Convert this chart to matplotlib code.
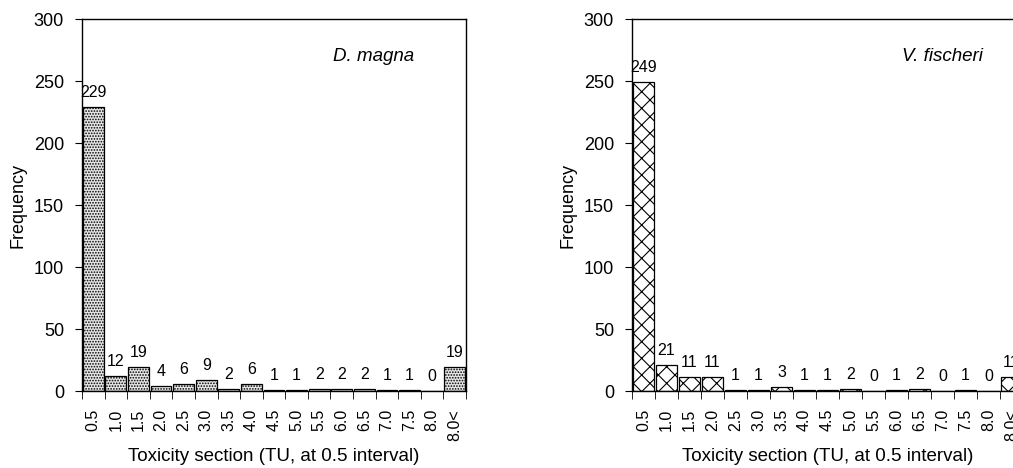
import numpy as np
import matplotlib
matplotlib.use("Agg")
import matplotlib.pyplot as plt

plt.rcParams["font.family"] = ["Liberation Sans", "DejaVu Sans"]
plt.rcParams["hatch.linewidth"] = 0.8

# toxicity sections (TU, 0.5 interval)
sections = ["0.5", "1.0", "1.5", "2.0", "2.5", "3.0", "3.5", "4.0", "4.5",
            "5.0", "5.5", "6.0", "6.5", "7.0", "7.5", "8.0", "8.0<"]
d_magna = [229, 12, 19, 4, 6, 9, 2, 6, 1, 1, 2, 2, 2, 1, 1, 0, 19]
v_fischeri = [249, 21, 11, 11, 1, 1, 3, 1, 1, 2, 0, 1, 2, 0, 1, 0, 11]

fig = plt.figure(figsize=(10.13, 4.68), dpi=100)

# axes rectangles in figure fraction; right panel runs off the edge like the source
ax1 = fig.add_axes([82 / 1013, 77 / 468, 384 / 1013, 372 / 468])
ax2 = fig.add_axes([632 / 1013, 77 / 468, 391 / 1013, 372 / 468])


def draw_panel(ax, values, hatch, face, name, name_x):
    x = np.arange(len(sections))
    bars = ax.bar(x, values, width=0.92, color=face, edgecolor="black",
                  linewidth=0.9, hatch=hatch)
    for b, v in zip(bars, values):
        ax.annotate(str(v), (b.get_x() + b.get_width() / 2, v),
                    xytext=(0, 5), textcoords="offset points",
                    ha="center", va="bottom", fontsize=11.5)
    ax.set_xlim(-0.5, len(sections) - 0.5)
    ax.set_ylim(0, 300)
    ax.set_yticks(range(0, 301, 50))
    ax.tick_params(axis="y", labelsize=13, length=5, pad=8, direction="out")

    # labels under bars, tick marks on bar boundaries
    ax.set_xticks(x)
    ax.set_xticklabels(sections, rotation=90, fontsize=11.5)
    ax.tick_params(axis="x", which="major", length=0, pad=13)
    ax.set_xticks(np.arange(-0.5, len(sections)), minor=True)
    ax.tick_params(axis="x", which="minor", length=6, direction="out")

    ax.set_ylabel("Frequency", fontsize=13, labelpad=5)
    ax.set_xlabel("Toxicity section (TU, at 0.5 interval)", fontsize=13.5, labelpad=5)
    ax.text(name_x, 0.898, name, transform=ax.transAxes, fontsize=13.5,
            style="italic", ha="center", va="center")
    for s in ax.spines.values():
        s.set_linewidth(1.0)


draw_panel(ax1, d_magna, "......", "#e6e6e6", "D. magna", 0.76)
draw_panel(ax2, v_fischeri, "xx", "white", "V. fischeri", 0.793)

fig.savefig("out.png", dpi=100)
